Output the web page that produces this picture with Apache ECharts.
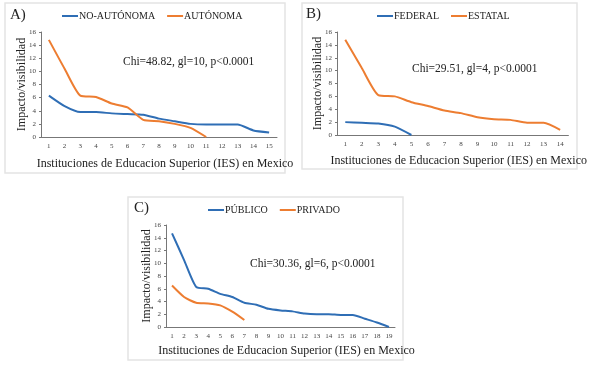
<!DOCTYPE html>
<html>
<head>
<meta charset="utf-8">
<script src="https://cdn.jsdelivr.net/npm/echarts@6/dist/echarts.min.js"></script>
<style>
  html, body { margin: 0; padding: 0; background: #fff; }
  #chart { width: 589px; height: 365px; }
</style>
</head>
<body>
<div id="chart"></div>
<script>
// panel A
const catsA = ['1', '2', '3', '4', '5', '6', '7', '8', '9', '10', '11', '12', '13', '14', '15']
const noAutonoma = [6.3, 4.7, 3.8, 3.8, 3.6, 3.5, 3.4, 2.8, 2.4, 2.0, 1.9, 1.9, 1.9, 1.0, 0.7]
const autonoma = [14.8, 10.4, 6.3, 6.1, 5.1, 4.5, 2.6, 2.4, 2.0, 1.4, 0]
// panel B
const catsB = ['1', '2', '3', '4', '5', '6', '7', '8', '9', '10', '11', '12', '13', '14']
const federal = [2.0, 1.9, 1.8, 1.3, 0]
const estatal = [14.8, 10.4, 6.2, 6.0, 5.1, 4.5, 3.8, 3.4, 2.75, 2.45, 2.35, 1.9, 1.9, 0.8]
// panel C
const catsC = ['1', '2', '3', '4', '5', '6', '7', '8', '9', '10', '11', '12', '13', '14', '15', '16', '17', '18', '19']
const publico = [14.7, 10.5, 6.3, 6.0, 5.2, 4.7, 3.8, 3.5, 2.85, 2.6, 2.45, 2.1, 2.0, 2.0, 1.9, 1.9, 1.3, 0.7, 0]
const privado = [6.5, 4.7, 3.8, 3.7, 3.4, 2.4, 1.1]

const panelLabels = ['A)', 'B)', 'C)']
const statTexts = ['Chi=48.82, gl=10, p<0.0001', 'Chi=29.51, gl=4, p<0.0001', 'Chi=30.36, gl=6, p<0.0001']
const xName = 'Instituciones de Educacion Superior (IES) en Mexico'
const yName = 'Impacto/visibilidad'

const BLUE = '#2f6eb5'
const ORANGE = '#ed7d31'
const SERIF = '"Liberation Serif", "DejaVu Serif", serif'

const grids = [
  { left: 41, top: 32, width: 236, height: 105 },
  { left: 337, top: 32, width: 232, height: 103 },
  { left: 166, top: 225, width: 229, height: 102 }
]
const cats = [catsA, catsB, catsC]
const xNameGaps = [21, 20, 18]

function xAxis(i) {
  return {
    type: 'category',
    gridIndex: i,
    data: cats[i],
    name: xName,
    nameLocation: 'middle',
    nameGap: xNameGaps[i],
    nameMoveOverlap: false,
    nameTextStyle: { fontFamily: SERIF, fontSize: 12, color: '#222', padding: [0, 0, 0, 12] },
    axisLine: { lineStyle: { color: '#777', width: 1 } },
    axisTick: { inside: true, length: 2, lineStyle: { color: '#777' } },
    axisLabel: { fontFamily: SERIF, fontSize: 7, color: '#444', margin: 6 }
  }
}

function yAxis(i) {
  return {
    type: 'value',
    gridIndex: i,
    min: 0,
    max: 16,
    interval: 2,
    name: yName,
    nameLocation: 'middle',
    nameGap: 13,
    nameMoveOverlap: false,
    nameTextStyle: { fontFamily: SERIF, fontSize: 12, color: '#222' },
    axisLine: { show: true, lineStyle: { color: '#777', width: 1 } },
    axisTick: { show: true, length: 2, lineStyle: { color: '#777' } },
    axisLabel: { fontFamily: SERIF, fontSize: 7, color: '#444', margin: 5 },
    splitLine: { show: false }
  }
}

function line(name, data, color, i) {
  return {
    name,
    type: 'line',
    xAxisIndex: i,
    yAxisIndex: i,
    data,
    symbol: 'none',
    smooth: 0.2,
    lineStyle: { color, width: 2 },
    itemStyle: { color },
    animation: false
  }
}

function legend(names, left, top) {
  return {
    data: names,
    left,
    top,
    icon: 'rect',
    itemWidth: 16,
    itemHeight: 2,
    itemGap: 12,
    padding: 0,
    selectedMode: false,
    textStyle: { fontFamily: SERIF, fontSize: 10, color: '#222', padding: [0, 0, 0, -4] }
  }
}

const frames = [
  { x: 5, y: 3, w: 280, h: 170 },
  { x: 302, y: 3, w: 275, h: 166 },
  { x: 128, y: 197, w: 275, h: 163 }
]
const labelPos = [[10, 8], [306, 7], [134, 201]]
const statPos = [[123, 56], [412, 63], [250, 258]]

const graphic = []
frames.forEach(f => {
  graphic.push({
    type: 'rect',
    shape: { x: f.x, y: f.y, width: f.w, height: f.h },
    style: { fill: 'none', stroke: '#e4e4e4', lineWidth: 1.5 },
    silent: true
  })
})
panelLabels.forEach((t, i) => {
  graphic.push({
    type: 'text',
    left: labelPos[i][0],
    top: labelPos[i][1],
    style: { text: t, font: '15px ' + SERIF, fill: '#222' }
  })
  graphic.push({
    type: 'text',
    left: statPos[i][0],
    top: statPos[i][1],
    style: { text: statTexts[i], font: '11.5px ' + SERIF, fill: '#222' }
  })
})

const chart = echarts.init(document.getElementById('chart'))
chart.setOption({
  backgroundColor: '#fff',
  animation: false,
  grid: grids,
  xAxis: [0, 1, 2].map(xAxis),
  yAxis: [0, 1, 2].map(yAxis),
  legend: [
    legend(['NO-AUTÓNOMA', 'AUTÓNOMA'], 62, 11),
    legend(['FEDERAL', 'ESTATAL'], 377, 11),
    legend(['PÚBLICO', 'PRIVADO'], 208, 205)
  ],
  graphic,
  series: [
    line('NO-AUTÓNOMA', noAutonoma, BLUE, 0),
    line('AUTÓNOMA', autonoma, ORANGE, 0),
    line('FEDERAL', federal, BLUE, 1),
    line('ESTATAL', estatal, ORANGE, 1),
    line('PÚBLICO', publico, BLUE, 2),
    line('PRIVADO', privado, ORANGE, 2)
  ]
})
</script>
</body>
</html>
